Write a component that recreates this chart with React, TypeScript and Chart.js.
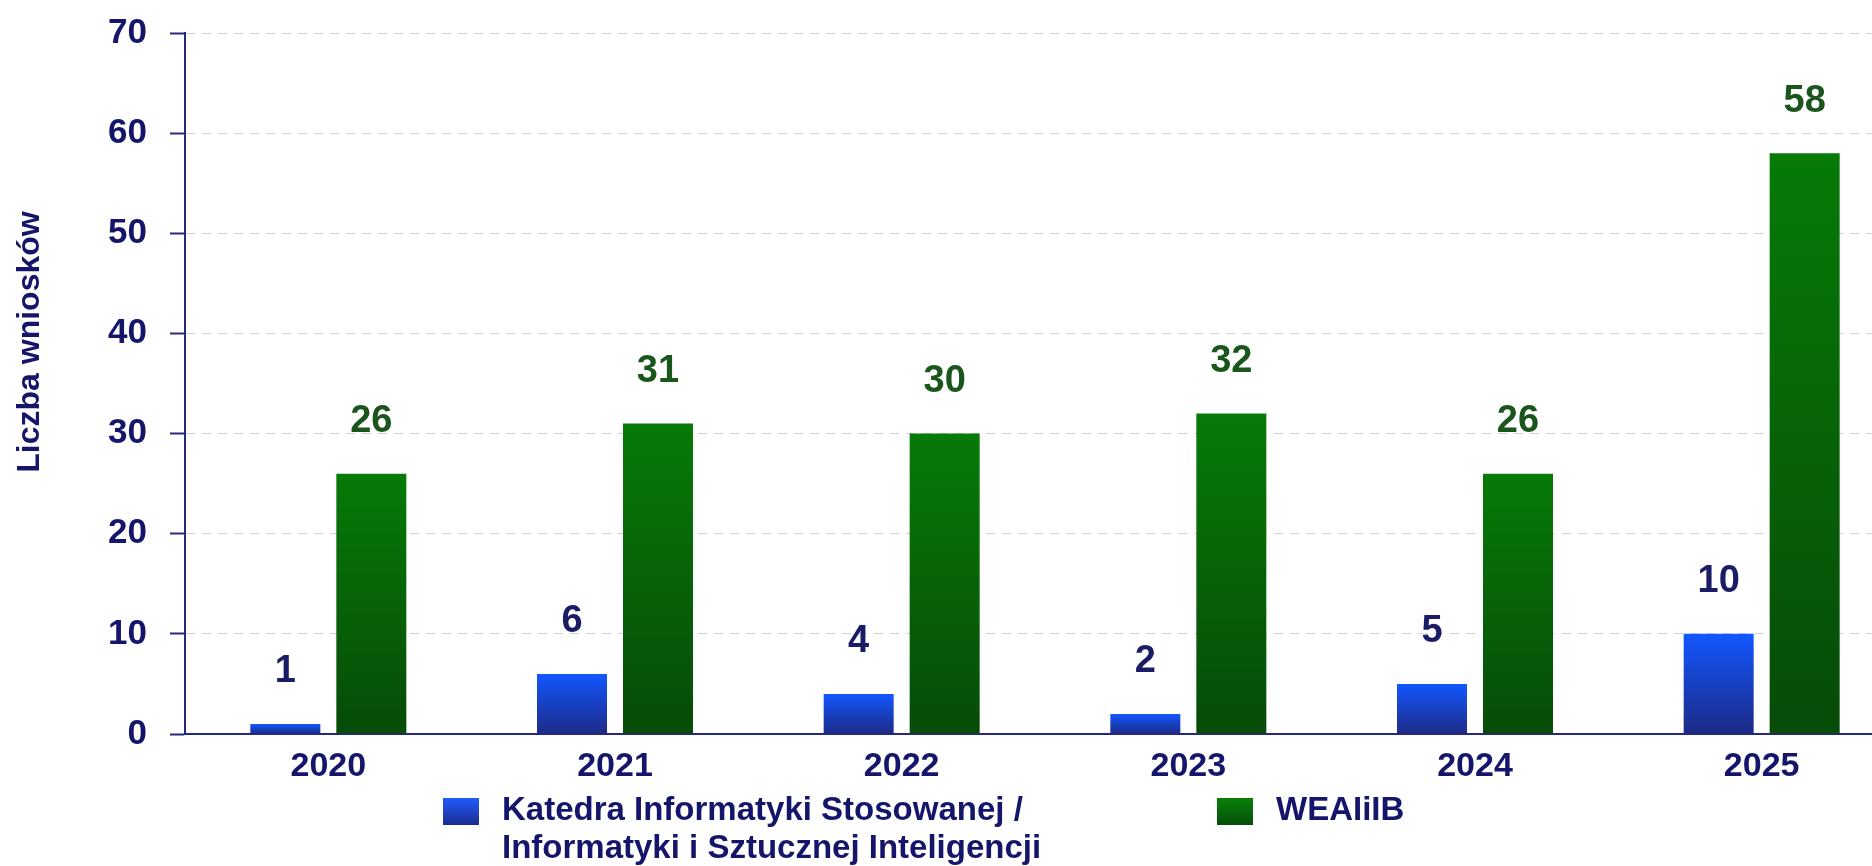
import React, { useEffect, useRef } from "react";
import { Chart, registerables } from "chart.js";

Chart.register(...registerables);

const categories = ["2020", "2021", "2022", "2023", "2024", "2025"];
const katedraValues = [1, 6, 4, 2, 5, 10];
const wealibValues = [26, 31, 30, 32, 26, 58];
const katedraLegend = ["Katedra Informatyki Stosowanej /", "Informatyki i Sztucznej Inteligencji"];
const wealibLegend = ["WEAIiIB"];
const yAxisTitle = "Liczba wniosków";
const yMin = 0;
const yMax = 70;
const yStep = 10;

const NAVY = "#15166b";
const AXIS = "#27287c";
const LABEL_BLUE = "#1b1c66";
const LABEL_GREEN = "#1a561c";
const SANS = '"Liberation Sans", Arial, sans-serif';

const CANVAS_W = 1910;
const CANVAS_H = 866;

function barGradient(ctx: any, top: string, bottom: string) {
  const chart = ctx.chart;
  if (!chart.chartArea || !chart.scales.y) return top;
  const v = ctx.raw as number;
  const y0 = chart.scales.y.getPixelForValue(v);
  const y1 = chart.scales.y.getPixelForValue(0);
  if (!isFinite(y0) || !isFinite(y1) || y0 === y1) return top;
  const g = chart.ctx.createLinearGradient(0, y0, 0, y1);
  g.addColorStop(0, top);
  g.addColorStop(1, bottom);
  return g;
}

const valueLabelPlugin = {
  id: "valueLabels",
  afterDatasetsDraw(chart: any) {
    const ctx = chart.ctx;
    ctx.save();
    ctx.font = `bold 38px ${SANS}`;
    ctx.textAlign = "center";
    ctx.textBaseline = "middle";
    chart.data.datasets.forEach((ds: any, i: number) => {
      const meta = chart.getDatasetMeta(i);
      ctx.fillStyle = ds.labelColor;
      meta.data.forEach((el: any, j: number) => {
        ctx.fillText(String(ds.data[j]), el.x, el.y - 52);
      });
    });
    ctx.restore();
  },
};

const yTitlePlugin = {
  id: "yTitle",
  afterDraw(chart: any) {
    const ctx = chart.ctx;
    ctx.save();
    ctx.translate(30, 342);
    ctx.rotate(-Math.PI / 2);
    ctx.font = `bold 32px ${SANS}`;
    ctx.fillStyle = NAVY;
    ctx.textAlign = "center";
    ctx.textBaseline = "middle";
    ctx.fillText(yAxisTitle, 0, 0);
    ctx.restore();
  },
};

const legendPlugin = {
  id: "customLegend",
  afterDraw(chart: any) {
    const ctx = chart.ctx;
    const items = [
      { x: 443, lines: katedraLegend, top: "#1f5cff", bottom: "#1c2c8e" },
      { x: 1217, lines: wealibLegend, top: "#0a800a", bottom: "#05500a" },
    ];
    ctx.save();
    ctx.font = `bold 33px ${SANS}`;
    ctx.textBaseline = "alphabetic";
    ctx.textAlign = "left";
    items.forEach((it) => {
      const by = 798;
      const g = ctx.createLinearGradient(0, by, 0, by + 27);
      g.addColorStop(0, it.top);
      g.addColorStop(1, it.bottom);
      ctx.fillStyle = g;
      ctx.fillRect(it.x, by, 36, 27);
      ctx.fillStyle = NAVY;
      it.lines.forEach((line: string, k: number) => {
        ctx.fillText(line, it.x + 59, 820 + k * 38);
      });
    });
    ctx.restore();
  },
};

export default function App() {
  const ref = useRef<HTMLCanvasElement | null>(null);

  useEffect(() => {
    document.body.style.margin = "0";
    document.body.style.background = "#ffffff";
    if (!ref.current) return;
    const chart = new Chart(ref.current, {
      type: "bar",
      data: {
        labels: categories,
        datasets: [
          {
            label: katedraLegend.join(" "),
            data: katedraValues,
            backgroundColor: (c: any) => barGradient(c, "#1257ff", "#1d2a86"),
            labelColor: LABEL_BLUE,
            barPercentage: 0.814,
            categoryPercentage: 0.6,
          } as any,
          {
            label: wealibLegend.join(" "),
            data: wealibValues,
            backgroundColor: (c: any) => barGradient(c, "#077a07", "#074b09"),
            labelColor: LABEL_GREEN,
            barPercentage: 0.814,
            categoryPercentage: 0.6,
          } as any,
        ],
      },
      options: {
        animation: false,
        responsive: false,
        maintainAspectRatio: false,
        layout: { padding: { left: 0, right: CANVAS_W - 1905, top: 33, bottom: 84 } },
        plugins: {
          legend: { display: false },
          tooltip: { enabled: false },
          title: { display: false },
        },
        scales: {
          x: {
            grid: { display: false },
            border: { display: true, color: AXIS, width: 2 },
            ticks: {
              color: NAVY,
              font: { family: SANS, size: 34, weight: "bold" },
              padding: 4,
            },
            afterFit: (s: any) => {
              s.height = 48;
              s.paddingLeft = 0;
              s.paddingRight = 0;
            },
          },
          y: {
            min: yMin,
            max: yMax,
            ticks: {
              stepSize: yStep,
              color: NAVY,
              font: { family: SANS, size: 35, weight: "bold" },
              padding: 23,
            },
            grid: {
              color: "#d2d2d2",
              lineWidth: 1,
              drawTicks: true,
              tickLength: 15,
              tickColor: AXIS,
              tickWidth: 2,
              tickBorderDash: [],
            } as any,
            border: { display: true, color: AXIS, width: 2, dash: [9, 7] },
            title: { display: false },
            afterFit: (s: any) => {
              s.width = 185;
              s.paddingTop = 0;
              s.paddingBottom = 0;
            },
          },
        },
      },
      plugins: [valueLabelPlugin, yTitlePlugin, legendPlugin],
    } as any);
    return () => chart.destroy();
  }, []);

  return (
    <div style={{ width: 1872, height: 866, position: "relative", overflow: "hidden", background: "#fff" }}>
      <canvas
        ref={ref}
        width={CANVAS_W}
        height={CANVAS_H}
        style={{ display: "block", width: CANVAS_W, height: CANVAS_H }}
      />
    </div>
  );
}
